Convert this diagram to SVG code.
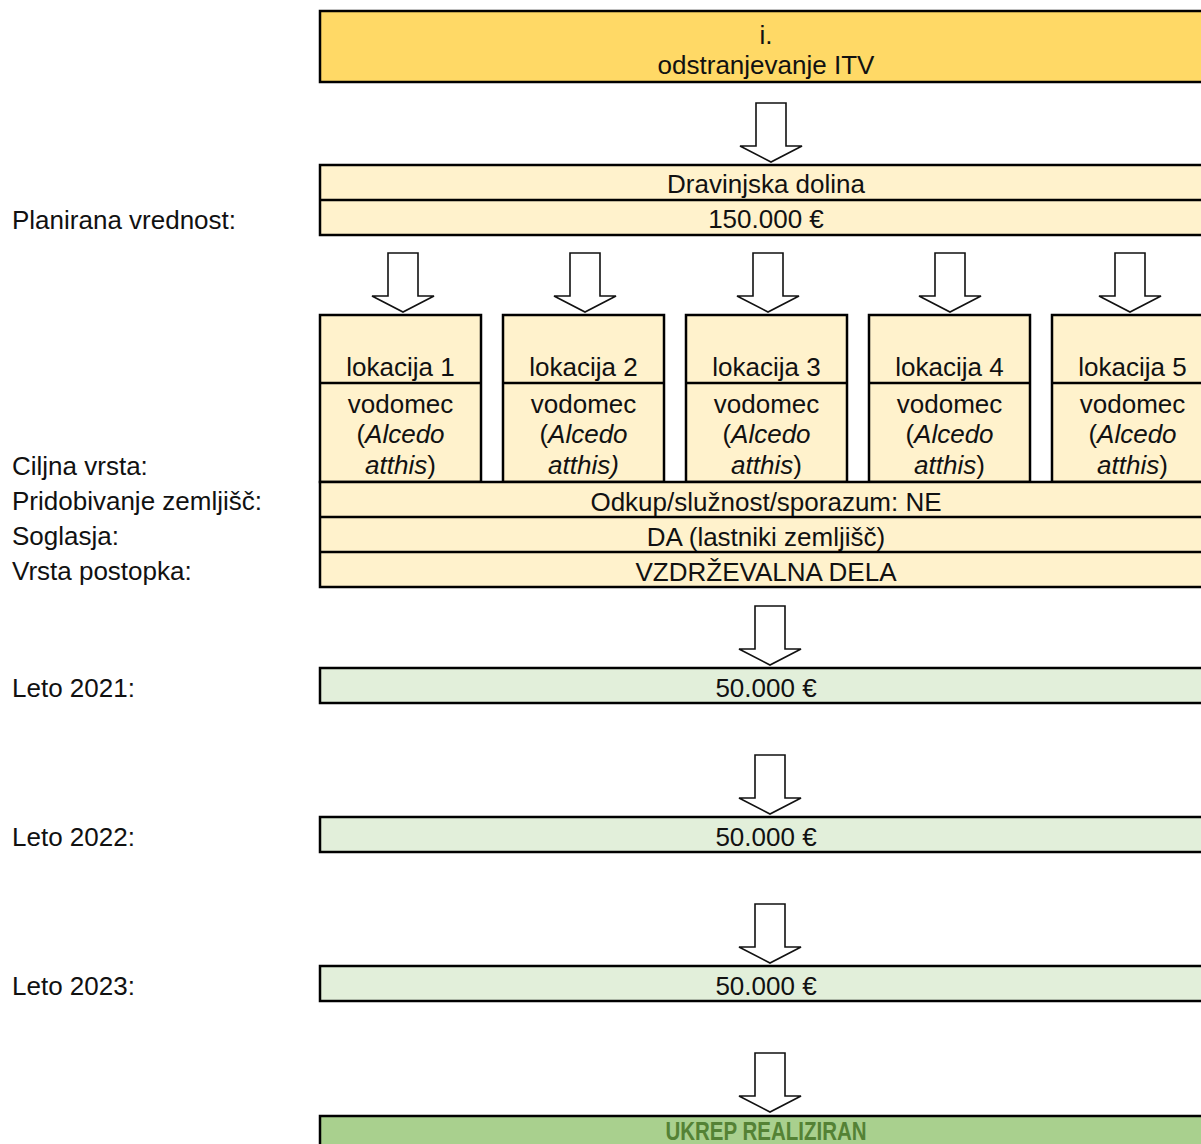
<svg xmlns="http://www.w3.org/2000/svg" width="1201" height="1144" viewBox="0 0 1201 1144">
<style>
text{font-family:"Liberation Sans",Arial,sans-serif;font-size:26px;fill:#111}
.c{text-anchor:middle}
.box{stroke:#000;stroke-width:2.5}
.y1{fill:#FFD966}
.y2{fill:#FFF2CC}
.g1{fill:#E2EFDA}
.g2{fill:#A9D08E}
.arr{fill:#fff;stroke:#111;stroke-width:1.6;stroke-linejoin:miter}
.line{stroke:#000;stroke-width:2.5}
.lbl{text-anchor:start}
</style>
<defs>
<path id="a" d="M-15,0 H15 V43 H31 L0,59 L-31,43 H-15 Z"/>
</defs>
<rect width="1201" height="1144" fill="#fff"/>
<g id="labels">
<text class="lbl" x="12" y="229">Planirana vrednost:</text>
<text class="lbl" x="12" y="475">Ciljna vrsta:</text>
<text class="lbl" x="12" y="510">Pridobivanje zemljišč:</text>
<text class="lbl" x="12" y="545">Soglasja:</text>
<text class="lbl" x="12" y="580">Vrsta postopka:</text>
<text class="lbl" x="12" y="697">Leto 2021:</text>
<text class="lbl" x="12" y="846">Leto 2022:</text>
<text class="lbl" x="12" y="995">Leto 2023:</text>
</g>
<g id="node-top">
<rect class="box y1" x="320" y="11" width="900" height="71"/>
<text class="c" x="766" y="44">i.</text>
<text class="c" x="766" y="74">odstranjevanje ITV</text>
</g>
<g id="node-dolina">
<rect class="box y2" x="320" y="165" width="900" height="70"/>
<line class="line" x1="320" y1="200" x2="1220" y2="200"/>
<text class="c" x="766" y="193">Dravinjska dolina</text>
<text class="c" x="766" y="228">150.000 €</text>
</g>
<g id="node-lok1">
<rect class="box y2" x="320" y="315" width="161" height="167"/>
<line class="line" x1="320" y1="383" x2="481" y2="383"/>
<text class="c" x="400.5" y="376">lokacija 1</text>
<text class="c" x="400.5" y="413">vodomec</text>
<text class="c" x="400.5" y="443">(<tspan font-style="italic">Alcedo</tspan></text>
<text class="c" x="400.5" y="474"><tspan font-style="italic">atthis</tspan>)</text>
</g>
<g id="node-lok2">
<rect class="box y2" x="503" y="315" width="161" height="167"/>
<line class="line" x1="503" y1="383" x2="664" y2="383"/>
<text class="c" x="583.5" y="376">lokacija 2</text>
<text class="c" x="583.5" y="413">vodomec</text>
<text class="c" x="583.5" y="443">(<tspan font-style="italic">Alcedo</tspan></text>
<text class="c" x="583.5" y="474" font-style="italic">atthis)</text>
</g>
<g id="node-lok3">
<rect class="box y2" x="686" y="315" width="161" height="167"/>
<line class="line" x1="686" y1="383" x2="847" y2="383"/>
<text class="c" x="766.5" y="376">lokacija 3</text>
<text class="c" x="766.5" y="413">vodomec</text>
<text class="c" x="766.5" y="443">(<tspan font-style="italic">Alcedo</tspan></text>
<text class="c" x="766.5" y="474"><tspan font-style="italic">atthis</tspan>)</text>
</g>
<g id="node-lok4">
<rect class="box y2" x="869" y="315" width="161" height="167"/>
<line class="line" x1="869" y1="383" x2="1030" y2="383"/>
<text class="c" x="949.5" y="376">lokacija 4</text>
<text class="c" x="949.5" y="413">vodomec</text>
<text class="c" x="949.5" y="443">(<tspan font-style="italic">Alcedo</tspan></text>
<text class="c" x="949.5" y="474"><tspan font-style="italic">atthis</tspan>)</text>
</g>
<g id="node-lok5">
<rect class="box y2" x="1052" y="315" width="161" height="167"/>
<line class="line" x1="1052" y1="383" x2="1213" y2="383"/>
<text class="c" x="1132.5" y="376">lokacija 5</text>
<text class="c" x="1132.5" y="413">vodomec</text>
<text class="c" x="1132.5" y="443">(<tspan font-style="italic">Alcedo</tspan></text>
<text class="c" x="1132.5" y="474"><tspan font-style="italic">atthis</tspan>)</text>
</g>
<g id="node-pogoji">
<rect class="box y2" x="320" y="482" width="900" height="105"/>
<line class="line" x1="320" y1="517" x2="1220" y2="517"/>
<line class="line" x1="320" y1="552" x2="1220" y2="552"/>
<text class="c" x="766" y="511">Odkup/služnost/sporazum: NE</text>
<text class="c" x="766" y="546">DA (lastniki zemljišč)</text>
<text class="c" x="766" y="581">VZDRŽEVALNA DELA</text>
</g>
<g id="node-2021">
<rect class="box g1" x="320" y="668" width="900" height="35"/>
<text class="c" x="766" y="697">50.000 €</text>
</g>
<g id="node-2022">
<rect class="box g1" x="320" y="817" width="900" height="35"/>
<text class="c" x="766" y="846">50.000 €</text>
</g>
<g id="node-2023">
<rect class="box g1" x="320" y="966" width="900" height="35"/>
<text class="c" x="766" y="995">50.000 €</text>
</g>
<g id="node-ukrep">
<rect class="box g2" x="320" y="1116" width="900" height="40"/>
<text class="c" x="766" y="1140" font-family="'Liberation Sans Narrow','Liberation Sans',sans-serif" font-weight="bold" style="fill:#548235" textLength="201" lengthAdjust="spacingAndGlyphs">UKREP REALIZIRAN</text>
</g>
<g id="connectors">
<use href="#a" class="arr" x="771" y="103"/>
<use href="#a" class="arr" x="403" y="253"/>
<use href="#a" class="arr" x="585" y="253"/>
<use href="#a" class="arr" x="768" y="253"/>
<use href="#a" class="arr" x="950" y="253"/>
<use href="#a" class="arr" x="1130" y="253"/>
<use href="#a" class="arr" x="770" y="606"/>
<use href="#a" class="arr" x="770" y="755"/>
<use href="#a" class="arr" x="770" y="904"/>
<use href="#a" class="arr" x="770" y="1053"/>
</g>
</svg>
